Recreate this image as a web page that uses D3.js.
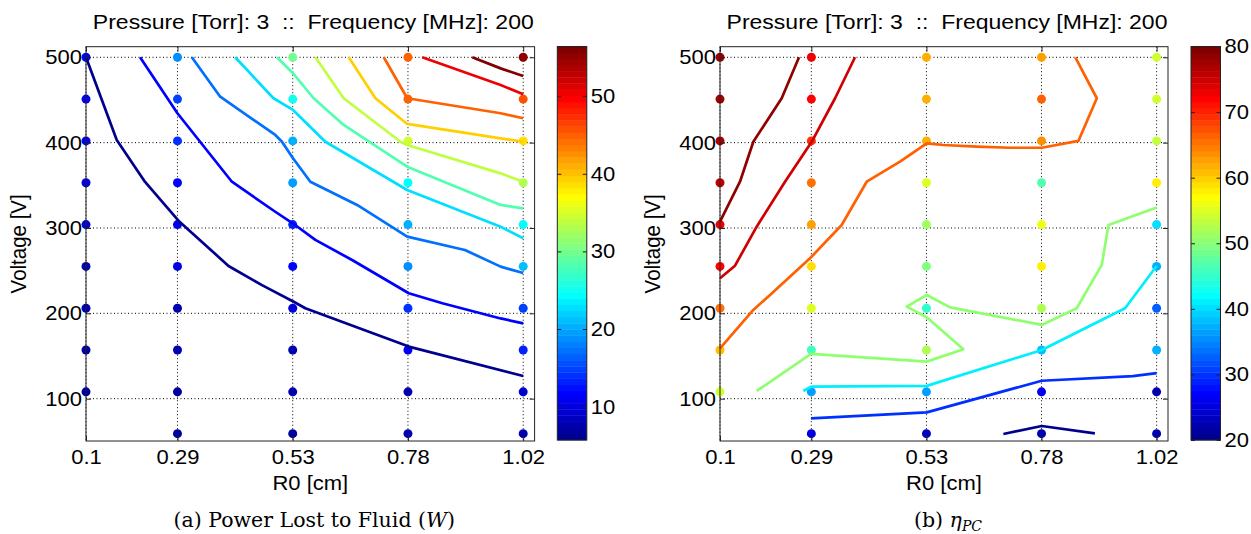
<!DOCTYPE html>
<html>
<head>
<meta charset="utf-8">
<script src="https://cdn.jsdelivr.net/npm/d3@7"></script>
<style>
  body { margin: 0; background: #fff; }
  text { font-family: "Liberation Sans", Arial, Helvetica, sans-serif; fill: #000; }
  .caption { font-family: "DejaVu Serif", "Liberation Serif", serif; }
</style>
</head>
<body>
<script>
// grid of the scatter: R0 columns x voltage rows
const rValues = [0.1, 0.2925, 0.535, 0.7775, 1.02];
const rTickLabels = ["0.1", "0.29", "0.53", "0.78", "1.02"];
const voltages = [59, 108, 157, 206, 255, 304, 353, 402, 451, 500];
const vTicks = [100, 200, 300, 400, 500];

// (a) power lost to fluid, one row per R0 column, bottom to top (null = no run)
const powerLost = [
  [null, 7, 7, 7.5, 8, 9, 10, 10.5, 11, 12],
  [6.5, 7, 7.5, 8, 10, 11, 12, 14, 15, 19],
  [7, 7.5, 8, 10, 12, 13, 19.5, 20.5, 25, 30],
  [7.5, 8, 11, 14, 19, 20, 24, 35, 45, 45],
  [8, 9, 13, 15, 21, 24, 33, 38.5, 46, 55]
];
const powerTicks = [10, 20, 30, 40, 50];

// contour lines of (a): level, then [R0, V] vertices
const powerContours = [
  [5.7, [[0.1, 500], [0.1647, 403], [0.2243, 354], [0.2945, 308.6], [0.3999, 255.5], [0.4703, 233], [0.537, 213.6], [0.5615, 206], [0.7792, 161], [1.02, 126.6]]],
  [11.3, [[0.2138, 500], [0.2924, 434.4], [0.407, 354.2], [0.4983, 319], [0.535, 305.5], [0.5826, 286], [0.66, 262.5], [0.7792, 223.5], [0.85, 211.8], [0.9725, 194], [1.02, 188.3]]],
  [17, [[0.3227, 500], [0.3824, 453.8], [0.4983, 409], [0.5124, 401], [0.5356, 381.7], [0.5721, 354.2], [0.6705, 327], [0.7759, 289.8], [0.8973, 274.2], [0.9725, 254.7], [1.02, 247.2]]],
  [22.6, [[0.414, 500], [0.4945, 452], [0.5356, 438.3], [0.6037, 401], [0.7759, 344.5], [0.9725, 301.5], [1.02, 288]]],
  [28.2, [[0.5018, 500], [0.5356, 481.3], [0.579, 452], [0.6422, 420.7], [0.7759, 371.8], [0.9725, 327], [1.02, 323]]],
  [33.9, [[0.5827, 500], [0.6422, 452], [0.7617, 401], [0.776, 397.2], [0.9725, 364], [1.02, 354.2]]],
  [39.5, [[0.6528, 500], [0.709, 452], [0.7759, 421.9], [0.9725, 405], [1.02, 401]]],
  [45.1, [[0.7266, 500], [0.776, 452], [0.9725, 434.4], [1.02, 428.5]]],
  [50.8, [[0.8075, 500], [0.9725, 467.5], [1.02, 456.6]]],
  [56.4, [[0.9128, 500], [0.9725, 487], [1.02, 478]]]
];

// (b) eta_PC, same layout
const etaPC = [
  [null, 54, 61, 65, 72, 72.5, 76, 77, 78, 78],
  [24.8, 36.3, 46, 55.5, 59, 62.7, 65.4, 69, 72, 72.5],
  [23, 36.3, 52.4, 44.9, 49.4, 51.8, 54.8, 62, 62, 62],
  [21.9, 26, 38.7, 52, 58.4, 56, 46.6, 63.5, 66, 63],
  [22.5, 22.5, 37.4, 33, 37.4, 39.8, 58.4, 53.4, 54, 54]
];
const etaTicks = [20, 30, 40, 50, 60, 70, 80];

const etaContours = [
  [20.5, [[0.6971, 58.6], [0.778, 68], [0.8899, 59.4]]],
  [30, [[0.2918, 77], [0.5356, 84], [0.778, 121], [0.97, 126.5], [1.02, 130]]],
  [41, [[0.2756, 109], [0.2918, 114], [0.5356, 115], [0.778, 157], [0.9535, 206], [1.02, 255.5]]],
  [50, [[0.1773, 109], [0.2918, 152.4], [0.5356, 143.4], [0.6128, 158], [0.5356, 195.4], [0.4934, 207.8], [0.5356, 221.5], [0.5847, 207], [0.778, 186.4], [0.8517, 206], [0.9044, 256.7], [0.9185, 303.5], [1.02, 324]]],
  [66, [[0.1, 159], [0.1702, 204], [0.2054, 221.6], [0.2897, 264.5], [0.3564, 303.5], [0.4091, 354.2], [0.4793, 377.7], [0.5356, 399.2], [0.5707, 397.2], [0.641, 395.3], [0.7112, 394], [0.778, 394], [0.8552, 402], [0.894, 452], [0.8488, 500]]],
  [75, [[0.1, 241], [0.1316, 255.8], [0.1773, 301.5], [0.237, 354.2], [0.2932, 401], [0.3425, 452], [0.3845, 500]]],
  [79, [[0.1, 307.4], [0.1421, 354.2], [0.1702, 401], [0.23, 452], [0.2665, 500]]]
];

const titleText = "Pressure [Torr]: 3  ::  Frequency [MHz]: 200";

// ---- layout ----
const W = 1251, H = 534;
const plotTop = 46.7, plotBottom = 441;
const cbTop = 46.5, cbBottom = 440, cbWidth = 29.5;
const fs = 20, sx = 1.1;   // sans text is drawn slightly wide, like the original

// MATLAB jet(64)
function jet(n) {
  const m = Math.ceil(n / 4);
  const u = [];
  for (let i = 1; i <= m; i++) u.push(i / m);
  for (let i = 1; i < m; i++) u.push(1);
  for (let i = m; i >= 1; i--) u.push(i / m);
  const g0 = Math.ceil(m / 2) - (n % 4 === 1 ? 1 : 0);
  const c = d3.range(n).map(() => [0, 0, 0]);
  u.forEach((v, k) => {
    const gi = g0 + k, ri = gi + m, bi = gi - m;
    if (gi >= 0 && gi < n) c[gi][1] = v;
    if (ri < n) c[ri][0] = v;
    if (bi >= 0) c[bi][2] = v;
  });
  return c.map(d => d3.rgb(d[0] * 255, d[1] * 255, d[2] * 255).toString());
}
const cmap = jet(64);

const svg = d3.select("body").append("svg")
    .attr("width", W)
    .attr("height", H);

function label(g, x, y, str, size, scale) {
  return g.append("text")
      .attr("transform", "translate(" + x + "," + y + ") scale(" + scale + ",1)")
      .attr("text-anchor", "middle")
      .attr("xml:space", "preserve")
      .style("white-space", "pre")
      .style("font-size", size + "px")
      .text(str);
}

function drawPanel(p) {
  const x = d3.scaleLinear().domain([0.1, 1.044]).range([p.left, p.right]);
  const y = d3.scaleLinear().domain([50.4, 512.4]).range([plotBottom, plotTop]);
  const colour = v => {
    const i = Math.floor((v - p.cmin) / (p.cmax - p.cmin) * 64);
    return cmap[Math.max(0, Math.min(63, i))];
  };
  const g = svg.append("g");

  // dotted grid
  g.append("g").selectAll("line")
    .data(rValues)
    .join("line")
      .attr("x1", d => x(d)).attr("x2", d => x(d))
      .attr("y1", plotTop).attr("y2", plotBottom)
      .attr("stroke", "#000").attr("stroke-width", 1)
      .attr("stroke-dasharray", "1,2.5");
  g.append("g").selectAll("line")
    .data(vTicks)
    .join("line")
      .attr("x1", p.left).attr("x2", p.right)
      .attr("y1", d => y(d)).attr("y2", d => y(d))
      .attr("stroke", "#000").attr("stroke-width", 1)
      .attr("stroke-dasharray", "1,2.5");

  // scatter
  const pts = [];
  p.values.forEach((col, i) => col.forEach((v, j) => {
    if (v !== null) pts.push({ r: rValues[i], v: voltages[j], c: v });
  }));
  g.append("g").selectAll("circle")
    .data(pts)
    .join("circle")
      .attr("cx", d => x(d.r))
      .attr("cy", d => y(d.v))
      .attr("r", 4.5)
      .attr("fill", d => colour(d.c));

  // contour lines
  const line = d3.line().x(d => x(d[0])).y(d => y(d[1]));
  g.append("g").selectAll("path")
    .data(p.contours)
    .join("path")
      .attr("d", d => line(d[1]))
      .attr("fill", "none")
      .attr("stroke", d => colour(d[0]))
      .attr("stroke-width", 2.7)
      .attr("stroke-linejoin", "round");

  // box + inward ticks (MATLAB style)
  g.append("rect")
    .attr("x", p.left).attr("y", plotTop)
    .attr("width", p.right - p.left).attr("height", plotBottom - plotTop)
    .attr("fill", "none").attr("stroke", "#222").attr("stroke-width", 1);

  g.append("g")
      .attr("transform", "translate(0," + plotBottom + ")")
      .call(d3.axisBottom(x).tickValues(rValues)
        .tickFormat((d, i) => rTickLabels[i]).tickSize(-5).tickPadding(9));
  g.append("g")
      .attr("transform", "translate(0," + plotTop + ")")
      .call(d3.axisTop(x).tickValues(rValues).tickFormat("").tickSize(-5));
  g.append("g")
      .attr("class", "yax")
      .attr("transform", "translate(" + p.left + ",0)")
      .call(d3.axisLeft(y).tickValues(vTicks).tickSize(-5).tickPadding(4));
  g.append("g")
      .attr("transform", "translate(" + p.right + ",0)")
      .call(d3.axisRight(y).tickValues(vTicks).tickFormat("").tickSize(-5));
  g.selectAll(".domain").remove();
  g.selectAll(".tick text")
      .attr("transform", "scale(" + sx + ",1)")
      .style("font-size", fs + "px")
      .style("font-family", "\"Liberation Sans\", Arial, sans-serif");
  g.select(".yax").selectAll("text").attr("x", -4 / sx);

  const cx = (p.left + p.right) / 2;
  label(g, cx + 3, 29, titleText, fs, 1.15);
  label(g, cx, 490, "R0 [cm]", fs, sx);
  g.append("text")
      .attr("transform", "translate(" + (p.left - 60) + "," + ((plotTop + plotBottom) / 2) + ") rotate(-90) scale(1,1.1)")
      .attr("text-anchor", "middle")
      .style("font-size", (fs + 0.5) + "px")
      .text("Voltage [V]");

  // caption
  const cap = g.append("text")
      .attr("class", "caption")
      .attr("x", cx + 4).attr("y", 527)
      .attr("text-anchor", "middle")
      .style("font-size", "20.5px");
  p.caption(cap);

  // colorbar
  const cb = d3.scaleLinear().domain([p.cmin, p.cmax]).range([cbBottom, cbTop]);
  const step = (p.cmax - p.cmin) / 64;
  g.append("g").selectAll("rect")
    .data(cmap)
    .join("rect")
      .attr("x", p.cbx)
      .attr("width", cbWidth)
      .attr("y", (d, i) => cb(p.cmin + (i + 1) * step))
      .attr("height", (d, i) => cb(p.cmin + i * step) - cb(p.cmin + (i + 1) * step) + 0.4)
      .attr("fill", d => d);
  g.append("rect")
    .attr("x", p.cbx).attr("y", cbTop)
    .attr("width", cbWidth).attr("height", cbBottom - cbTop)
    .attr("fill", "none").attr("stroke", "#222").attr("stroke-width", 1);
  g.append("g")
      .attr("transform", "translate(" + (p.cbx + cbWidth) + ",0)")
      .call(d3.axisRight(cb).tickValues(p.cbTicks).tickSize(-4).tickPadding(4))
      .call(s => s.select(".domain").remove())
      .call(s => s.selectAll("text")
        .attr("x", 4 / sx)
        .attr("transform", "scale(" + sx + ",1)")
        .style("font-size", fs + "px"));
  g.append("g")
      .attr("transform", "translate(" + p.cbx + ",0)")
      .call(d3.axisLeft(cb).tickValues(p.cbTicks).tickFormat("").tickSize(-4))
      .call(s => s.select(".domain").remove());
  g.selectAll(".tick line").attr("stroke", "#222");
}

drawPanel({
  left: 86, right: 534.6, cbx: 557.3,
  values: powerLost, contours: powerContours,
  cmin: 5.7, cmax: 56.4, cbTicks: powerTicks,
  caption: t => {
    t.append("tspan").text("(a) Power Lost to Fluid (");
    t.append("tspan").style("font-style", "italic").text("W");
    t.append("tspan").text(")");
  }
});

drawPanel({
  left: 720, right: 1168, cbx: 1191,
  values: etaPC, contours: etaContours,
  cmin: 20, cmax: 80, cbTicks: etaTicks,
  caption: t => {
    t.append("tspan").text("(b) ");
    t.append("tspan").style("font-style", "italic").text("η");
    t.append("tspan").style("font-style", "italic").style("font-size", "14px")
      .attr("dy", 4).text("PC");
  }
});
</script>
</body>
</html>
